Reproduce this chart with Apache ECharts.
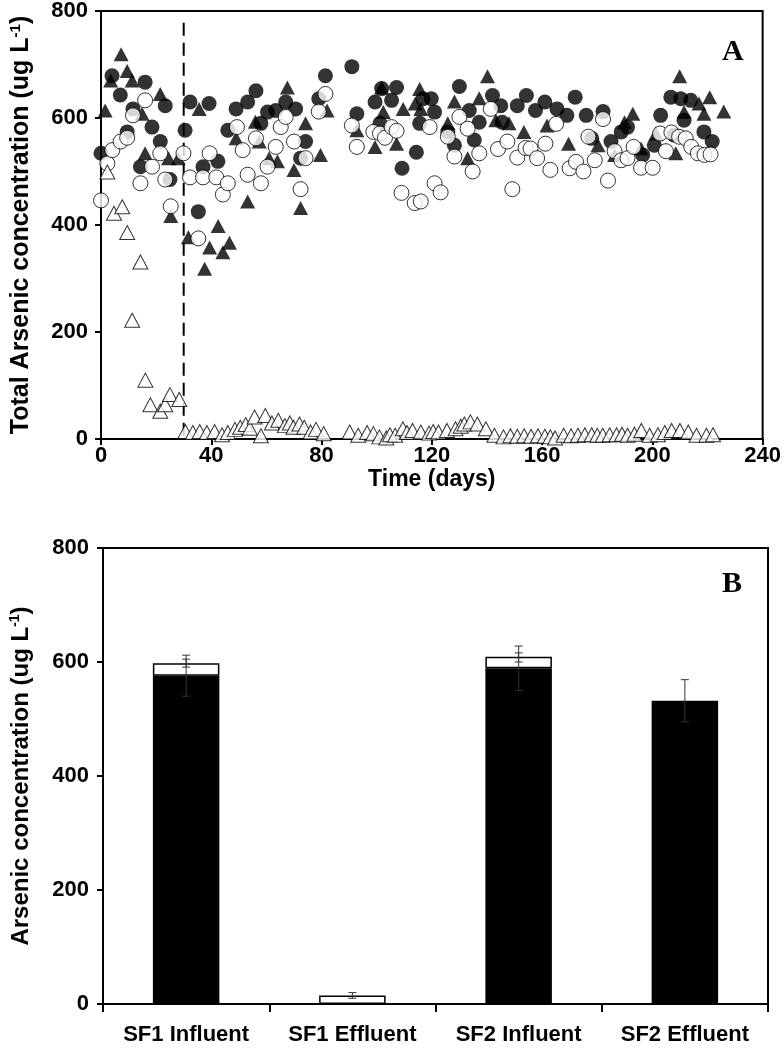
<!DOCTYPE html>
<html><head><meta charset="utf-8">
<script src="https://cdn.jsdelivr.net/npm/echarts@6/dist/echarts.min.js"></script>
<style>html,body{margin:0;padding:0;background:#fff}#c{width:784px;height:1050px}</style>
</head><body><div id="c"></div>
<script>
// ---------- Panel A data: [day, total As (ug/L)] ----------
const filledCircles = [[0,534],[4,679],[7,643],[9.5,574],[11.6,617],[14.3,509],[16,667],[18.5,583],[21.5,556],[23.3,623],[25,485],[30.5,577],[32.3,630],[35.3,425],[37,509],[39.2,627],[42.4,519],[46,577],[49,617],[53.2,630],[56.2,651],[58,590],[60.4,611],[63.4,614],[67,630],[70.6,617],[72.4,525],[74.2,556],[79,636],[81.4,679],[91,696],[92.8,608],[99.4,630],[101.2,590],[101.8,655],[105.4,633],[107.2,657],[109.2,506],[114.4,536],[115.6,590],[116.8,636],[119.8,636],[121,611],[125.8,574],[128.2,549],[130,659],[133.6,614],[135.4,559],[137.2,592],[142,642],[145,623],[145.5,592],[151,623],[154.3,642],[157.6,614],[161,630],[165.4,617],[169,605],[172,639],[176,605],[178,562],[182.1,612],[185,556],[188.7,574],[191,583],[196.5,531],[200.7,549],[203,605],[206.7,639],[207.9,568],[210.3,636],[211.5,596],[213.9,633],[218.7,574],[221.7,556]];
const filledTriangles = [[1.5,614],[3.5,670],[7.3,719],[9.5,688],[11.3,670],[14.9,608],[16,534],[21.5,645],[24.5,525],[25.3,417],[28,525],[31.7,377],[35.6,617],[37.6,318],[39.4,358],[42.5,398],[44.2,349],[46.6,367],[49,562],[53.2,444],[56,593],[57.4,556],[61,525],[64,519],[67.6,657],[70,503],[72.4,432],[74.2,590],[79.6,531],[82,614],[92.8,577],[99.4,546],[101.8,657],[102.4,611],[107.2,552],[109.6,617],[114,627],[115.6,654],[116,617],[125.8,590],[128.2,631],[133,525],[137.2,637],[140.2,678],[143.2,596],[148,590],[153.4,574],[161.8,586],[169.6,552],[180.3,549],[186.3,531],[189.9,592],[192.9,608],[195.9,543],[201.3,571],[208.5,534],[209.9,678],[211.5,611],[216.9,627],[218.7,608],[220.8,639],[225.9,612]];
const openCircles = [[0,446],[2.3,515],[4.1,540],[7.1,556],[9.5,563],[11.6,605],[14.3,478],[16,633],[18.5,509],[21.5,534],[23.3,485],[25.3,435],[29.9,534],[32.3,489],[35.3,375],[37,489],[39.4,534],[41.8,489],[44.2,457],[46,478],[49.3,583],[51.4,540],[53.2,494],[56.2,562],[58,478],[60.4,509],[63.4,546],[65.2,583],[67,602],[70,556],[72.4,467],[74.2,525],[79,612],[81.4,645],[91,586],[92.8,546],[98.8,574],[101.2,571],[103,563],[105.4,583],[107.2,576],[109,460],[113.8,441],[116,444],[119.2,583],[121,478],[123.2,461],[125.8,565],[128.2,528],[130,602],[133,580],[134.8,500],[137.2,534],[141.4,617],[144,542],[147.4,556],[149.2,467],[151,526],[154,544],[155.8,543],[158.2,525],[161.2,552],[163,503],[165.1,589],[170,506],[172.3,518],[175,500],[176.8,565],[179.1,521],[182.1,598],[183.9,483],[186.3,538],[188.7,521],[191,525],[193.2,546],[195.9,507],[200.1,507],[202.8,571],[204.9,538],[206.9,573],[209.7,565],[212.1,562],[214.1,546],[216.5,534],[218.9,531],[221.1,532]];
const openTriangles = [[2.3,499],[4.7,422],[7.7,434],[9.5,386],[11.3,222],[14.3,331],[16.1,110],[17.9,64],[21.5,52],[23.3,64],[25,83],[28.4,74],[30.6,14],[33.3,12],[35.8,14],[38.4,12],[41.2,14],[43.9,8],[46,12],[48.6,18],[50.5,22],[52.5,27],[54,20],[55.7,41],[58,6],[59.6,44],[62,30],[64.3,35],[66.7,25],[68.5,30],[69.8,22],[72,28],[73.7,22],[76,13],[78,18],[80.8,10],[90.2,13],[93.3,7],[96.5,12],[98.8,10],[101,4],[103.5,2],[104.8,8],[106.7,7],[109.5,19],[111,12],[113,16],[116,13],[119,11],[120.5,14],[122.4,13],[125.5,16],[128.6,19],[130.5,24],[131.8,28],[134,32],[136.5,28],[139.6,19],[142.7,7],[146,4],[148.5,6],[151,5],[153.5,6],[156,5],[158.5,6],[161,5],[163,4],[164.7,2],[167.8,7],[170.5,6],[173,7],[175.5,8],[178,8],[180,7],[182,7],[184.5,8],[187,8],[189,9],[191,7],[193.5,9],[196,16],[199,7],[202,8],[204.5,12],[207,16],[210,16],[213,13],[216,7],[219.6,7],[222,8]];
const dashDay = [[30,778],[30,0]];

// ---------- Panel B data ----------
const categories = ['SF1 Influent','SF1 Effluent','SF2 Influent','SF2 Effluent'];
const blackPart = [576, 0, 589, 532];
const whitePart = [22, 15, 20, '-'];
// error bars: [categoryIndex, low, high]
const errorBars = [[0,540,612],[0,591,605],[1,10,20],[2,550,628],[2,600,616],[3,495,569]];

const sans = "'Liberation Sans',Arial,Helvetica,sans-serif";
const tickFont = {fontFamily: sans, fontWeight:'bold', fontSize:22, color:'#000'};
const axisLine = {show:true, lineStyle:{color:'#000', width:2}};
const axisTick = {show:true, inside:false, length:6, lineStyle:{color:'#000', width:2}};
function richTitle(size){
  return {
    t:{fontFamily:sans, fontWeight:'bold', fontSize:size, color:'#000'},
    s:{fontFamily:sans, fontWeight:'bold', fontSize:Math.round(size*0.6), color:'#000', verticalAlign:'top', padding:[0,0,Math.round(size*0.48),0]}
  };
}

const chart = echarts.init(document.getElementById('c'), null, {renderer:'canvas'});
const openStyle = {color:'#fff', borderColor:'#000', borderWidth:1};
chart.setOption({
  animation:false,
  backgroundColor:'#fff',
  grid:[
    {left:97, right:20, top:8, height:431, show:true, borderColor:'#000', borderWidth:2, backgroundColor:'transparent'},
    {left:100, right:16, top:548, height:456, show:true, borderColor:'#000', borderWidth:2, backgroundColor:'transparent'}
  ],
  xAxis:[
    {gridIndex:0, type:'value', min:0, max:240, interval:40, axisLine, axisTick, splitLine:{show:false},
     axisLabel:{...tickFont, margin:6},
     name:'Time (days)', nameLocation:'middle', nameGap:29,
     nameTextStyle:{fontFamily:sans, fontWeight:'bold', fontSize:23, color:'#000'}},
    {gridIndex:1, type:'category', data:categories, axisLine, axisTick:{...axisTick, length:8, alignWithLabel:false},
     axisLabel:{...tickFont, fontSize:22, margin:20, interval:0, hideOverlap:false}}
  ],
  yAxis:[
    {gridIndex:0, type:'value', min:0, max:800, interval:200, axisLine, axisTick, splitLine:{show:false},
     axisLabel:{...tickFont, margin:13},
     name:'{t|Total Arsenic concentration (ug L}{s|-1}{t|)}', nameLocation:'middle', nameGap:66, nameRotate:90,
     nameTextStyle:{rich:richTitle(25)}},
    {gridIndex:1, type:'value', min:0, max:800, interval:200, axisLine, axisTick, splitLine:{show:false},
     axisLabel:{...tickFont, margin:14},
     name:'{t|Arsenic concentration (ug L}{s|-1}{t|)}', nameLocation:'middle', nameGap:69, nameRotate:90,
     nameTextStyle:{rich:richTitle(24)}}
  ],
  graphic:[
    {type:'text', left:722, top:37, style:{text:'A', font:"bold 30px 'Liberation Serif', 'Times New Roman', serif", fill:'#000'}},
    {type:'text', left:722, top:569, style:{text:'B', font:"bold 30px 'Liberation Serif', 'Times New Roman', serif", fill:'#000'}}
  ],
  series:[
    {type:'line', xAxisIndex:0, yAxisIndex:0, data:dashDay, symbol:'none', z:1,
     lineStyle:{color:'#000', width:2, type:[13,7]}},
    {type:'scatter', xAxisIndex:0, yAxisIndex:0, data:filledTriangles, symbol:'triangle', symbolSize:[15,14], itemStyle:{color:'#000'}, z:2},
    {type:'scatter', xAxisIndex:0, yAxisIndex:0, data:filledCircles, symbol:'circle', symbolSize:15, itemStyle:{color:'#000'}, z:3},
    {type:'scatter', xAxisIndex:0, yAxisIndex:0, data:openCircles, symbol:'circle', symbolSize:15, itemStyle:openStyle, z:4},
    {type:'scatter', xAxisIndex:0, yAxisIndex:0, data:openTriangles, symbol:'triangle', symbolSize:[15,14], itemStyle:openStyle, z:5},
    {type:'bar', xAxisIndex:1, yAxisIndex:1, stack:'as', data:blackPart, barWidth:'40%', itemStyle:{color:'#000'}, z:2},
    {type:'bar', xAxisIndex:1, yAxisIndex:1, stack:'as', data:whitePart, barWidth:'40%', itemStyle:{color:'#fff', borderColor:'#000', borderWidth:1.5}, z:2},
    {type:'custom', xAxisIndex:1, yAxisIndex:1, data:errorBars, z:5,
     renderItem:function(params, api){
       const x = api.value(0);
       const lo = api.coord([x, api.value(1)]);
       const hi = api.coord([x, api.value(2)]);
       const cx = lo[0], hw = 4;
       const st = {stroke:'#333', lineWidth:1};
       return {type:'group', children:[
         {type:'line', shape:{x1:cx, y1:lo[1], x2:cx, y2:hi[1]}, style:st},
         {type:'line', shape:{x1:cx-hw, y1:lo[1], x2:cx+hw, y2:lo[1]}, style:st},
         {type:'line', shape:{x1:cx-hw, y1:hi[1], x2:cx+hw, y2:hi[1]}, style:st}
       ]};
     }}
  ]
});
</script></body></html>
